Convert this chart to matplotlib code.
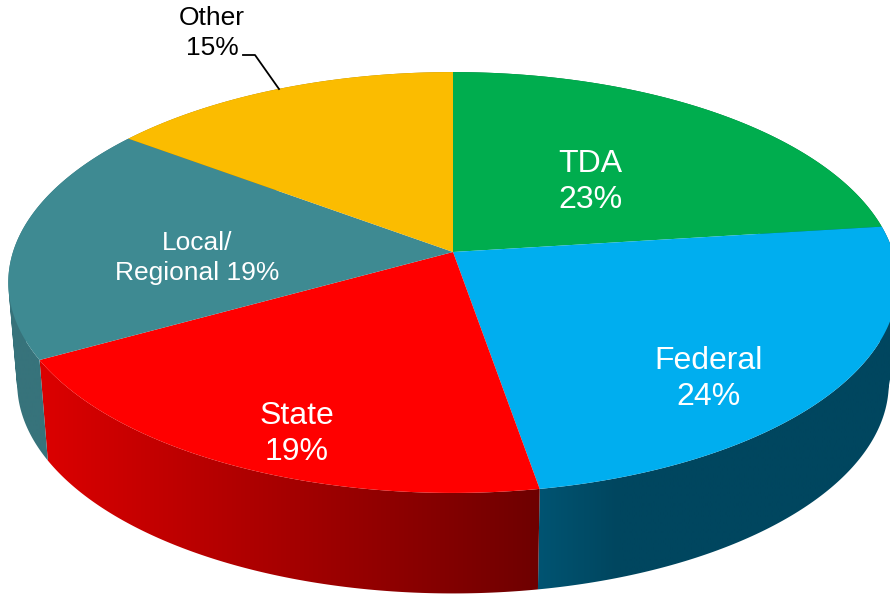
import numpy as np
import matplotlib.pyplot as plt
from matplotlib.colors import to_rgb
from matplotlib.path import Path

names = ['TDA', 'Federal', 'State', 'Local/\nRegional', 'Other']
labels = ['23%', '24%', '19%', '19%', '15%']
# slice sizes, the printed labels are rounded
shares = [23.0, 24.3, 19.6, 18.3, 14.8]
top_colors = ['#00ad4e', '#00aeef', '#ff0000', '#3e8a92', '#fbbc00']
side_left = ['#00703a', '#005472', '#dc0000', '#37737b', '#a67c00']
side_right = ['#00703a', '#00465f', '#6e0000', '#37737b', '#a67c00']
# part of the side (by width) over which the shade changes
side_ramp = [1, 0.22, 1, 1, 1]

plt.rcParams['font.family'] = ['Liberation Sans', 'DejaVu Sans']

# pixel space of the target picture
fig = plt.figure(figsize=(8.9, 5.95), dpi=100)
ax = fig.add_axes([0, 0, 1, 1])
ax.set_xlim(0, 890)
ax.set_ylim(595, 0)
ax.axis('off')

cx, cy = 453, 252
A, B, k = 440, 206, 0.145
drop, shrink_x, stretch_y = 100.5, 0.98, 1.0


def project(theta):
    # theta is clockwise from 12 o'clock, far side of the disc is smaller
    u, v = np.sin(theta), np.cos(theta)
    w = 1 + k*v
    return cx + A*u/w, cy - B*v/w


def project_low(theta):
    x, y = project(theta)
    return cx + shrink_x*(x - cx), cy + drop + stretch_y*(y - cy)


def side_path(x1, y1, x2, y2):
    # strip of quads, all wound the same way so that they add up at the silhouette
    verts = []
    codes = []
    for j in range(len(x1)-1):
        q = [(x1[j], y1[j]), (x1[j+1], y1[j+1]), (x2[j+1], y2[j+1]), (x2[j], y2[j])]
        qx, qy = np.array(q).T
        if np.dot(qx, np.roll(qy, -1)) - np.dot(qy, np.roll(qx, -1)) < 0:
            q = q[::-1]
        verts += q + [q[0]]
        codes += [Path.MOVETO, Path.LINETO, Path.LINETO, Path.LINETO, Path.CLOSEPOLY]
    return Path(verts, codes)


edges = np.cumsum([0] + shares)/sum(shares)*2*np.pi

# sides first, the top covers whatever faces away
for i in range(len(shares)):
    th = np.linspace(edges[i], edges[i+1], 150)
    x1, y1 = project(th)
    x2, y2 = project_low(th)
    lo, hi = min(x1.min(), x2.min()), max(x1.max(), x2.max())
    t = np.clip(np.linspace(0, 1, 256)/side_ramp[i], 0, 1)[:, None]
    c_l, c_r = np.array(to_rgb(side_left[i])), np.array(to_rgb(side_right[i]))
    grad = (c_l + (c_r - c_l)*t)[None, :, :]
    im = ax.imshow(grad, extent=[lo, hi, 595, 0], aspect='auto', interpolation='bilinear')
    im.set_clip_path(side_path(x1, y1, x2, y2), transform=ax.transData)

# top of the pie
for i in range(len(shares)):
    th = np.linspace(edges[i], edges[i+1], 120)
    x, y = project(th)
    ax.fill(np.r_[cx, x], np.r_[cy, y], color=top_colors[i], lw=0)

ax.set_xlim(0, 890)
ax.set_ylim(595, 0)

ax.text(590, 182, names[0] + '\n' + labels[0], color='white', fontsize=23,
        ha='center', va='center', linespacing=1.25)
ax.text(709, 379, names[1] + '\n' + labels[1], color='white', fontsize=23,
        ha='center', va='center', linespacing=1.25)
ax.text(297, 434, names[2] + '\n' + labels[2], color='white', fontsize=23,
        ha='center', va='center', linespacing=1.25)
ax.text(197, 258, names[3] + ' ' + labels[3], color='white', fontsize=19,
        ha='center', va='center', linespacing=1.3)
ax.text(212, 33, names[4] + '\n' + labels[4], color='black', fontsize=19,
        ha='center', va='center', linespacing=1.32)

# leader line for Other
ax.plot([243, 255, 279], [55, 55, 89], color='black', lw=1.3)

fig.savefig('out.png', dpi=100)
